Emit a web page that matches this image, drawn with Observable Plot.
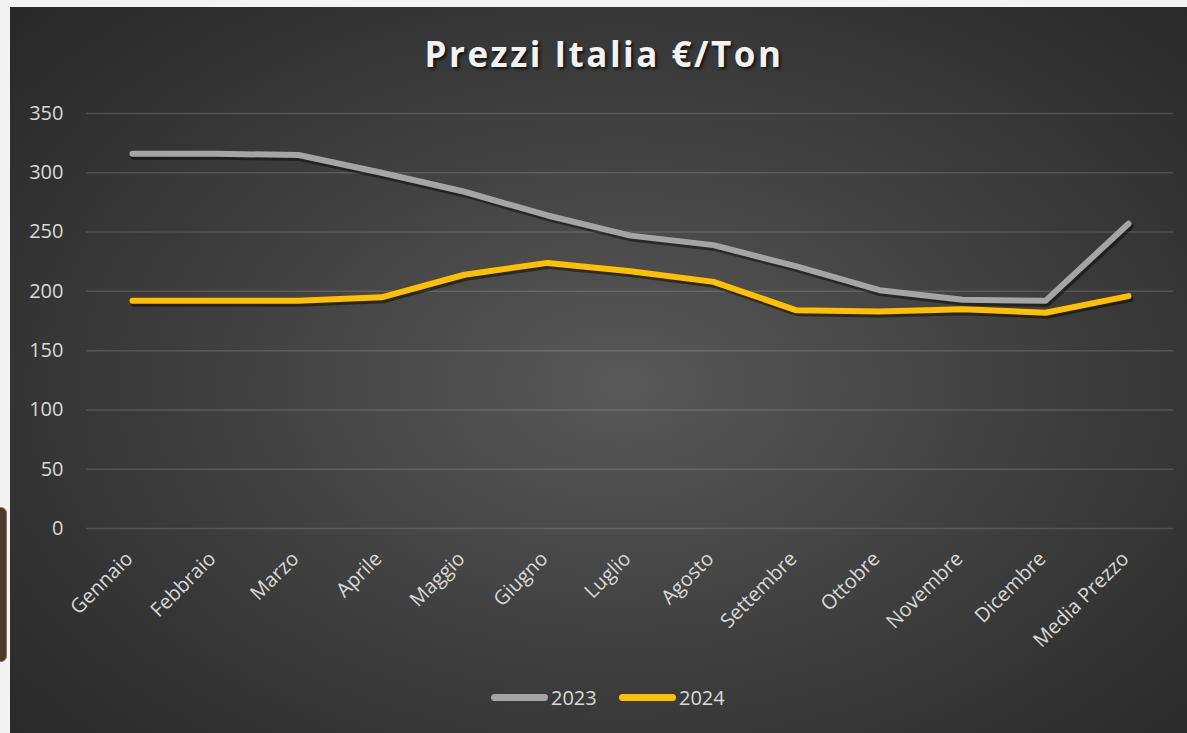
<!DOCTYPE html>
<html>
<head>
<meta charset="utf-8">
<script src="https://cdn.jsdelivr.net/npm/d3@7"></script>
<script src="https://cdn.jsdelivr.net/npm/@observablehq/plot@0.6"></script>
<style>
  html, body { margin: 0; padding: 0; background: #f3f3f3; width: 1187px; height: 733px; overflow: hidden; }
  #deco { position: absolute; left: -7px; top: 507px; width: 12px; height: 153px; background: #4a3b2a; border: 1px solid #8a7a60; border-radius: 6px; }
  #chart { position: absolute; left: 10px; top: 7px; width: 1177px; height: 726px;
    background: radial-gradient(ellipse 70% 75% at 52% 52%, #585858 0%, #3a3a3a 60%, #282828 100%);
    font-family: "Open Sans", sans-serif; color: #d9d9d9; }
  #title { position: absolute; left: 0; width: 1188px; top: 24px; text-align: center; font-size: 35px; font-weight: bold;
    letter-spacing: 2.5px; color: #f2f2f2; text-shadow: 2px 2px 3px rgba(0,0,0,0.7); line-height: 46px; }
  #plot { position: absolute; left: 0; top: 83px; }
  #legend { position: absolute; top: 677px; left: 0; width: 1177px; height: 28px; }
  .sw { position: absolute; top: 10px; height: 7px; border-radius: 4px; width: 57px; }
  .lt { position: absolute; top: 0; font-size: 20px; line-height: 28px; color: #d9d9d9; }
</style>
</head>
<body>
<div id="deco"></div>
<div id="chart">
  <div id="title">Prezzi Italia €/Ton</div>
  <div id="plot"></div>
  <div id="legend"></div>
</div>
<script>
const months = ["Gennaio", "Febbraio", "Marzo", "Aprile", "Maggio", "Giugno", "Luglio", "Agosto", "Settembre", "Ottobre", "Novembre", "Dicembre", "Media Prezzo"];
const prices2023 = [316, 316, 315, 300, 284, 264, 247, 239, 221, 201, 193, 192, 257];
const prices2024 = [192, 192, 192, 195, 214, 224, 217, 208, 184, 183, 185, 182, 196];
const years = ["2023", "2024"];
const yearColors = ["#a5a5a5", "#ffc000"];
const yTicks = [0, 50, 100, 150, 200, 250, 300, 350];

const rows = months.flatMap((m, i) => [
  {month: m, year: years[0], price: prices2023[i]},
  {month: m, year: years[1], price: prices2024[i]}
]);

const chart = Plot.plot({
  width: 1177,
  height: 560,
  marginLeft: 76,
  marginRight: 14,
  marginTop: 23,
  marginBottom: 122,
  style: {background: "transparent", color: "#d9d9d9", fontFamily: "Open Sans, sans-serif", fontSize: "20px", overflow: "visible"},
  x: {type: "point", domain: months, padding: 0.5, label: null},
  y: {domain: [0, 350], label: null},
  color: {domain: years, range: yearColors},
  marks: [
    Plot.gridY(yTicks, {stroke: "#ffffff", strokeOpacity: 0.14, strokeWidth: 1.5}),
    Plot.axisY(yTicks, {tickSize: 0, tickPadding: 23, fontSize: 20, fill: "#d9d9d9"}),
    Plot.axisX({tickSize: 0, tickRotate: -45, tickPadding: 12, fontSize: 20, fill: "#d9d9d9", dx: -3, dy: 15}),
    Plot.line(rows, {x: "month", y: "price", z: "year", stroke: "#000", strokeOpacity: 0.45, strokeWidth: 7, dx: 1.5, dy: 2.5, strokeLinecap: "round", strokeLinejoin: "round"}),
    Plot.line(rows, {x: "month", y: "price", z: "year", stroke: "year", strokeWidth: 6, strokeLinecap: "round", strokeLinejoin: "round"})
  ]
});
document.getElementById("plot").appendChild(chart);

// legend
const legend = document.getElementById("legend");
const legendPos = [[481, 541], [609, 669]];
years.forEach((y, i) => {
  const sw = document.createElement("div");
  sw.className = "sw";
  sw.style.left = legendPos[i][0] + "px";
  sw.style.background = yearColors[i];
  legend.appendChild(sw);
  const t = document.createElement("div");
  t.className = "lt";
  t.style.left = legendPos[i][1] + "px";
  t.textContent = y;
  legend.appendChild(t);
});
</script>
</body>
</html>
